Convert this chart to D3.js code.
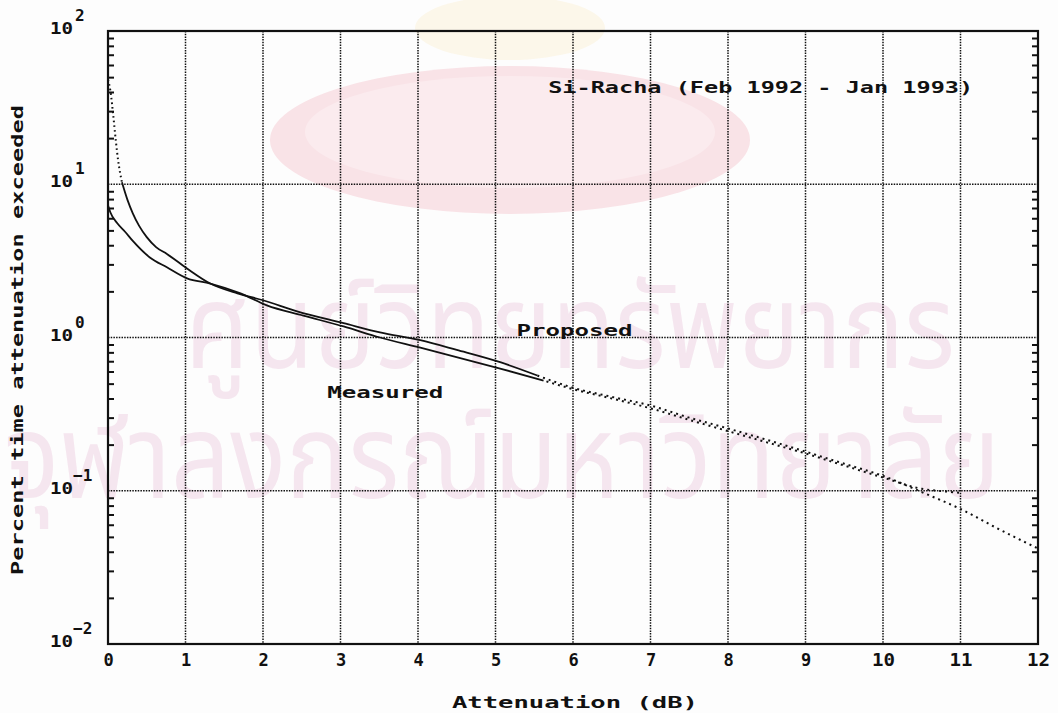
<!DOCTYPE html>
<html>
<head>
<meta charset="utf-8">
<script src="https://cdn.jsdelivr.net/npm/d3@7"></script>
<style>
  html, body { margin: 0; padding: 0; background: #fdfdfd; }
  svg { display: block; }
  .lbl { font-family: "DejaVu Sans Mono", "Liberation Mono", monospace; font-weight: bold; fill: #111; }
</style>
</head>
<body>
<div id="chart"></div>
<script>
// ---------------- data ----------------
const xTickValues = [0, 1, 2, 3, 4, 5, 6, 7, 8, 9, 10, 11, 12];
const yDecadeExponents = [2, 1, 0, -1, -2];

const titleText = "Si-Racha (Feb 1992 - Jan 1993)";
const xAxisTitle = "Attenuation (dB)";
const yAxisTitle = "Percent time attenuation exceeded";
const watermarkLines = ["ศูนย์วิทยทรัพยากร", "จุฬาลงกรณ์มหาวิทยาลัย"];

// Proposed model: dotted head, solid body, dotted tail
const proposedHeadAtten = [0, 0.03, 0.065, 0.10, 0.13, 0.18];
const proposedHeadPct   = [48, 41, 29, 19.4, 14.4, 10.3];
const proposedBodyAtten = [0.18, 0.25, 0.32, 0.40, 0.50, 0.62, 0.76, 1.02, 1.32, 1.67, 2.0, 2.44, 3.04, 3.51, 4.03, 4.5, 5.06, 5.54];
const proposedBodyPct   = [10.3, 7.94, 6.46, 5.37, 4.52, 3.89, 3.51, 2.82, 2.25, 1.94, 1.75, 1.48, 1.24, 1.08, 0.96, 0.83, 0.69, 0.565];
const proposedTailAtten = [5.54, 6.0, 6.5, 7.0, 7.5, 8.0, 8.5, 9.0, 9.5, 10.0, 10.5, 11.0, 11.5, 12.0];
const proposedTailPct   = [0.565, 0.47, 0.41, 0.36, 0.30, 0.255, 0.215, 0.18, 0.15, 0.125, 0.098, 0.076, 0.056, 0.042];

// Measured: solid body, dotted tail
const measuredBodyAtten = [0, 0.03, 0.12, 0.22, 0.32, 0.54, 0.76, 1.02, 1.32, 1.71, 2.05, 2.52, 3.04, 3.51, 4.03, 5.06, 5.62];
const measuredBodyPct   = [7.3, 6.56, 5.56, 4.9, 4.27, 3.33, 2.87, 2.43, 2.25, 1.94, 1.62, 1.39, 1.18, 1.0, 0.86, 0.627, 0.524];
const measuredTailAtten = [5.62, 6.0, 6.5, 7.0, 7.5, 8.0, 8.5, 9.0, 9.5, 10.0, 10.5, 10.8, 11.0];
const measuredTailPct   = [0.524, 0.46, 0.40, 0.345, 0.29, 0.245, 0.207, 0.175, 0.146, 0.122, 0.103, 0.099, 0.097];

// label anchor positions in data units
const proposedLabelAt = [5.27, 1.03];
const measuredLabelAt = [2.83, 0.405];
const titleAt = [5.68, 39.4];

// ---------------- drawing ----------------
(function draw() {
const W = 1058, H = 713;
const svg = d3.select("#chart").append("svg").attr("width", W).attr("height", H);
svg.append("rect").attr("width", W).attr("height", H).attr("fill", "#fdfdfd");

const pL = 108, pR = 1038, pT = 31, pB = 644;
const x = d3.scaleLinear().domain([0, 12]).range([pL, pR]);
const y = d3.scaleLog().domain([0.01, 100]).range([pB, pT]);

// faint library stamp (emblem + watermark text)
const stamp = svg.append("g");
stamp.append("ellipse").attr("cx", 510).attr("cy", 140).attr("rx", 240).attr("ry", 74).attr("fill", "#f9e3e7");
stamp.append("ellipse").attr("cx", 510).attr("cy", 132).attr("rx", 205).attr("ry", 56).attr("fill", "#fbebee");
stamp.append("ellipse").attr("cx", 510).attr("cy", 28).attr("rx", 95).attr("ry", 32).attr("fill", "#fcf7ea");
const wm = stamp.append("g").attr("fill", "#f5e6ef");
wm.append("text").attr("x", 185).attr("y", 368).attr("font-family", "Noto Sans Thai, Noto Sans, sans-serif")
  .attr("font-size", 118).attr("textLength", 770).attr("lengthAdjust", "spacingAndGlyphs").text(watermarkLines[0]);
wm.append("text").attr("x", 4).attr("y", 498).attr("font-family", "Noto Sans Thai, Noto Sans, sans-serif")
  .attr("font-size", 118).attr("textLength", 996).attr("lengthAdjust", "spacingAndGlyphs").text(watermarkLines[1]);

// grid
const grid = svg.append("g").attr("stroke", "#111").attr("stroke-width", 1.5).attr("stroke-dasharray", "1.5,1.2");
grid.selectAll("line.v").data(xTickValues.filter(d => d > 0 && d < 12)).enter().append("line")
  .attr("x1", d => x(d)).attr("x2", d => x(d)).attr("y1", pT).attr("y2", pB);
grid.selectAll("line.h").data(yDecadeExponents.filter(e => e > -2 && e < 2)).enter().append("line")
  .attr("x1", pL).attr("x2", pR).attr("y1", e => y(Math.pow(10, e))).attr("y2", e => y(Math.pow(10, e)));

// minor ticks on left and right (inward)
const minorVals = [];
for (let e = -2; e < 2; e++) for (let m = 2; m <= 9; m++) minorVals.push(m * Math.pow(10, e));
const axisL = d3.axisLeft(y).tickValues(minorVals).tickSize(-6).tickFormat("");
const axisR = d3.axisRight(y).tickValues(minorVals).tickSize(-6).tickFormat("");
const gl = svg.append("g").attr("transform", `translate(${pL},0)`).call(axisL);
const gr = svg.append("g").attr("transform", `translate(${pR},0)`).call(axisR);
[gl, gr].forEach(g => { g.select(".domain").remove(); g.selectAll("line").attr("stroke", "#111").attr("stroke-width", 2); });

// frame
svg.append("rect").attr("x", pL).attr("y", pT).attr("width", pR - pL).attr("height", pB - pT)
  .attr("fill", "none").attr("stroke", "#111").attr("stroke-width", 2.2);

// x tick labels
const xAxis = d3.axisBottom(x).tickValues(xTickValues).tickSize(0).tickPadding(0).tickFormat(d3.format("d"));
const gx = svg.append("g").attr("transform", `translate(0,${pB})`).call(xAxis);
gx.select(".domain").remove();
gx.selectAll("text").attr("class", "lbl").attr("font-size", 17).attr("dy", null).attr("y", 22)
  .attr("textLength", d => d >= 10 ? 23 : null).attr("lengthAdjust", "spacingAndGlyphs");

// y tick labels 10^n
const yl = svg.append("g");
yDecadeExponents.forEach(e => {
  const yy = y(Math.pow(10, e));
  yl.append("text").attr("class", "lbl").attr("x", 50).attr("y", yy + 3).attr("font-size", 16)
    .attr("textLength", 23).attr("lengthAdjust", "spacingAndGlyphs").text("10");
  yl.append("text").attr("class", "lbl").attr("x", e < 0 ? 73 : 75).attr("y", yy - 10).attr("font-size", 16)
    .text(e < 0 ? "\u2212" + Math.abs(e) : String(e));
});

// curves
const line = d3.line().x(d => x(d[0])).y(d => y(d[1])).curve(d3.curveMonotoneX);
const zip = (a, b) => a.map((v, i) => [v, b[i]]);
const curves = svg.append("g").attr("fill", "none").attr("stroke", "#111");
curves.append("path").attr("d", line(zip(proposedHeadAtten, proposedHeadPct))).attr("stroke-width", 2).attr("stroke-dasharray", "1.6,3");
curves.append("path").attr("d", line(zip(proposedBodyAtten, proposedBodyPct))).attr("stroke-width", 1.8);
curves.append("path").attr("d", line(zip(proposedTailAtten, proposedTailPct))).attr("stroke-width", 2).attr("stroke-dasharray", "2,4");
curves.append("path").attr("d", line(zip(measuredBodyAtten, measuredBodyPct))).attr("stroke-width", 1.8);
curves.append("path").attr("d", line(zip(measuredTailAtten, measuredTailPct))).attr("stroke-width", 2).attr("stroke-dasharray", "2,4").attr("stroke-dashoffset", 3);

// text labels
svg.append("text").attr("class", "lbl").attr("x", x(titleAt[0])).attr("y", y(titleAt[1])).attr("font-size", 15)
  .attr("textLength", 425).attr("lengthAdjust", "spacingAndGlyphs").text(titleText);
svg.append("text").attr("class", "lbl").attr("x", x(proposedLabelAt[0])).attr("y", y(proposedLabelAt[1])).attr("font-size", 15)
  .attr("textLength", 116).attr("lengthAdjust", "spacingAndGlyphs").text("Proposed");
svg.append("text").attr("class", "lbl").attr("x", x(measuredLabelAt[0])).attr("y", y(measuredLabelAt[1])).attr("font-size", 15)
  .attr("textLength", 116).attr("lengthAdjust", "spacingAndGlyphs").text("Measured");

svg.append("text").attr("class", "lbl").attr("x", 452).attr("y", 708).attr("font-size", 15)
  .attr("textLength", 246).attr("lengthAdjust", "spacingAndGlyphs").text(xAxisTitle);
svg.append("text").attr("class", "lbl").attr("transform", "translate(23,575) rotate(-90)").attr("font-size", 15)
  .attr("textLength", 470).attr("lengthAdjust", "spacingAndGlyphs").text(yAxisTitle);
})();
</script>
</body>
</html>
